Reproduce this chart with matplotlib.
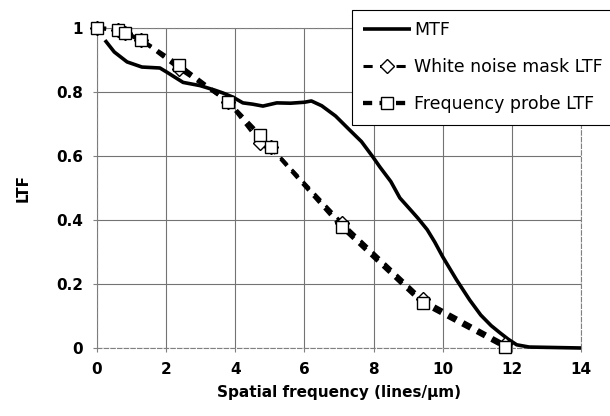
import matplotlib
matplotlib.use("Agg")
import matplotlib.pyplot as plt

plt.rcParams['font.family'] = ['DejaVu Sans']

# modulation transfer function (solid curve)
mtf_x = [0.23, 0.5, 0.87, 1.3, 1.82, 2.02, 2.49, 2.98, 3.4, 3.64, 3.93, 4.22,
         4.5, 4.8, 5.2, 5.6, 6.0, 6.2, 6.5, 6.9, 7.31, 7.65, 7.98, 8.18, 8.5,
         8.76, 9.0, 9.28, 9.55, 9.77, 10.0, 10.4, 10.78, 11.1, 11.4, 11.65,
         11.9, 12.14, 12.5, 13.0, 13.5, 14.0]
mtf_y = [0.962, 0.925, 0.894, 0.878, 0.875, 0.862, 0.83, 0.82, 0.806, 0.797,
         0.784, 0.766, 0.762, 0.756, 0.766, 0.765, 0.768, 0.772, 0.757, 0.725,
         0.681, 0.645, 0.597, 0.566, 0.52, 0.469, 0.44, 0.406, 0.37, 0.331,
         0.285, 0.213, 0.15, 0.103, 0.07, 0.048, 0.027, 0.01, 0.003, 0.002,
         0.001, 0.0]

# white noise mask LTF (diamonds)
noise_x = [0.0, 0.61, 0.81, 1.27, 2.37, 3.79, 4.71, 5.03, 7.08, 9.42, 11.8]
noise_y = [1.0, 0.995, 0.984, 0.963, 0.872, 0.77, 0.642, 0.627, 0.392, 0.152, 0.012]

# frequency probe LTF (squares)
probe_x = [0.0, 0.61, 0.81, 1.27, 2.37, 3.79, 4.71, 5.03, 7.08, 9.42, 11.8]
probe_y = [1.0, 0.995, 0.984, 0.963, 0.884, 0.769, 0.666, 0.627, 0.378, 0.14, 0.003]

x_ticks = [0, 2, 4, 6, 8, 10, 12, 14]
y_ticks = [0, 0.2, 0.4, 0.6, 0.8, 1]
y_labels = ['0', '0.2', '0.4', '0.6', '0.8', '1']

fig = plt.figure(figsize=(6.1, 4.16), dpi=100)
ax = fig.add_axes([97 / 610, 68 / 416, 484 / 610, 320 / 416])

ax.plot(mtf_x, mtf_y, color='black', lw=2.6, solid_capstyle='butt',
        label='MTF', zorder=3, clip_on=False)
# both dashed series share the same dash period so their gaps line up
ax.plot(noise_x, noise_y, color='black', lw=2.2, dashes=(3.0, 2.4),
        marker='D', markersize=7, markerfacecolor='white',
        markeredgecolor='black', markeredgewidth=1.0,
        label='White noise mask LTF', zorder=4, clip_on=False)
ax.plot(probe_x, probe_y, color='black', lw=3.1, dashes=(2.13, 1.7),
        marker='s', markersize=8.5, markerfacecolor='white',
        markeredgecolor='black', markeredgewidth=1.0,
        label='Frequency probe LTF', zorder=5, clip_on=False)

ax.set_xlim(0, 14)
ax.set_ylim(0, 1)
ax.set_xticks(x_ticks)
ax.set_yticks(y_ticks)
ax.set_yticklabels(y_labels)
ax.grid(True, color='0.45', lw=0.8)
ax.set_axisbelow(True)
for sp in ax.spines.values():
    sp.set_color('0.5')
    sp.set_linewidth(0.8)
    sp.set_linestyle((0, (4, 2)))
ax.tick_params(axis='both', length=3, color='0.5', labelsize=11, pad=7)
for lab in ax.get_xticklabels() + ax.get_yticklabels():
    lab.set_fontweight('bold')

ax.set_xlabel('Spatial frequency (lines/\u03bcm)', fontsize=11,
              fontweight='bold', labelpad=6)
ax.set_ylabel('LTF', fontsize=11, fontweight='bold', labelpad=18)

leg = ax.legend(loc='upper left', bbox_to_anchor=(352 / 610, 1 - 10 / 416),
                bbox_transform=fig.transFigure, borderaxespad=0,
                fontsize=12.5, frameon=True, fancybox=False,
                handlelength=2.75, handletextpad=0.2, labelspacing=1.1,
                borderpad=0.65, framealpha=1)
leg.get_frame().set_edgecolor('black')
leg.get_frame().set_linewidth(0.8)

fig.savefig('out.png', dpi=100)
